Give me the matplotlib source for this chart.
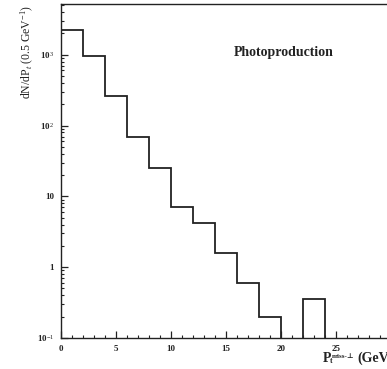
import numpy as np
import matplotlib.pyplot as plt
from matplotlib.ticker import LogLocator, MultipleLocator, FixedLocator, NullFormatter

# histogram of missing transverse momentum, 2 GeV bins
bin_edges = [0, 2, 4, 6, 8, 10, 12, 14, 16, 18, 20, 22, 24]
counts = [2250, 950, 260, 70, 25, 7.0, 4.2, 1.6, 0.6, 0.2, 0.0, 0.36]

ytick_vals = [0.1, 1, 10, 100, 1000]
ytick_labels = ['10$^{-1}$', '1', '10', '10$^{2}$', '10$^{3}$']
xtick_vals = [0, 5, 10, 15, 20, 25, 30]

plt.rcParams['font.family'] = ['Liberation Serif', 'DejaVu Serif']
plt.rcParams['mathtext.fontset'] = 'custom'
plt.rcParams['mathtext.rm'] = 'Liberation Serif'
plt.rcParams['mathtext.it'] = 'Liberation Serif:italic'
plt.rcParams['mathtext.bf'] = 'Liberation Serif:bold'

ink = '#222222'
fig = plt.figure(figsize=(3.87, 3.69), dpi=100)
ax = fig.add_axes([61/387, 31/369, 352/387, 334/369])

# drop the empty bin so the step line breaks like the original
c = np.array(counts, dtype=float)
c[c <= 0] = np.nan
ax.stairs(c[:10], bin_edges[:11], color=ink, lw=1.3)
ax.stairs(c[11:], bin_edges[11:], color=ink, lw=1.3, baseline=0.1)

ax.set_yscale('log')
ax.set_ylim(0.1, 5200)
ax.set_xlim(0, 32)

for s in ['left', 'bottom', 'top', 'right']:
    ax.spines[s].set_color(ink)
    ax.spines[s].set_linewidth(1.0)

ax.yaxis.set_major_locator(FixedLocator(ytick_vals))
ax.set_yticklabels(ytick_labels)
ax.yaxis.set_minor_locator(LogLocator(base=10, subs=np.arange(2, 10)))
ax.yaxis.set_minor_formatter(NullFormatter())
ax.xaxis.set_major_locator(FixedLocator(xtick_vals))
ax.set_xticklabels([str(v) for v in xtick_vals])
ax.xaxis.set_minor_locator(MultipleLocator(1))

ax.tick_params(which='both', direction='in', top=False, right=False,
               color=ink, labelsize=6.5, labelcolor=ink)
ax.tick_params(which='major', length=5, width=0.9, pad=5)
ax.tick_params(which='minor', length=2.5, width=0.8)
for lab in ax.get_xticklabels() + ax.get_yticklabels():
    lab.set_fontweight('bold')

ax.text(0.634, 0.856, 'Photoproduction', transform=ax.transAxes, ha='center',
        va='center', fontsize=10, fontweight='bold', color=ink)

fig.text(27/387, 1 - 5/369, 'dN/dP$_t$ (0.5 GeV$^{-1}$)', rotation=90,
         ha='center', va='top', fontsize=8.5, color=ink)
fig.text(323/387, 1 - 362/369, 'P', ha='left', va='baseline',
         fontsize=10, fontweight='bold', color=ink)
fig.text(330/387, 1 - 363/369, 't', ha='left', va='baseline',
         fontsize=5.5, fontweight='bold', color=ink)
fig.text(332/387, 1 - 358/369, 'miss-\u22a5', ha='left', va='baseline',
         fontsize=5, fontweight='bold', color=ink)
fig.text(357/387, 1 - 362/369, '(GeV)', ha='left', va='baseline',
         fontsize=10, fontweight='bold', color=ink)

fig.savefig('out.png', dpi=100)
